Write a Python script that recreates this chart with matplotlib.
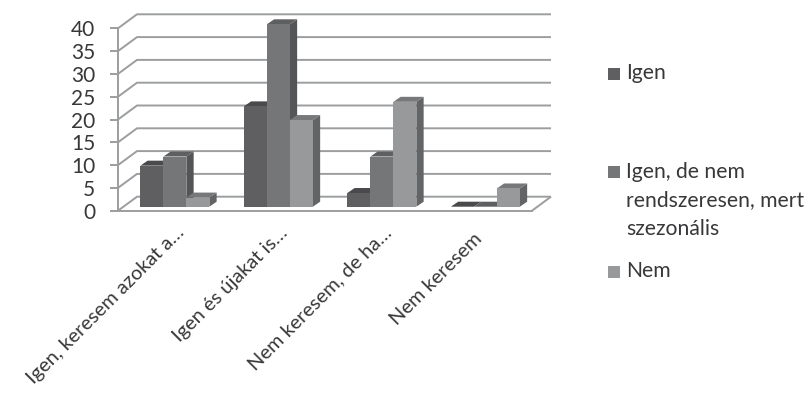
import matplotlib
matplotlib.use("Agg")
import matplotlib.pyplot as plt
from matplotlib.patches import Rectangle

categories = ["Igen, keresem azokat a…", "Igen és újakat is…", "Nem keresem, de ha…", "Nem keresem"]
igen = [9, 22, 3, 0]
igen_de_nem = [11, 40, 11, 0]
nem = [2, 19, 23, 4]
y_ticks = [0, 5, 10, 15, 20, 25, 30, 35, 40]
legend_labels = ["Igen", "Igen, de nem\nrendszeresen, mert\nszezonális", "Nem"]

W, H = 812, 394
plt.rcParams["font.family"] = ["Lato", "DejaVu Sans"]
TEXT = "#38383a"
GRID = "#9c9d9f"

fig = plt.figure(figsize=(W / 100, H / 100), dpi=100)
# The axes frame is the front edge of the 3-D floor and wall
ax = fig.add_axes([118 / W, 1 - 210.7 / H, 414 / W, 182.4 / H])
ax.set_xlim(-0.5, 3.5)
ax.set_ylim(0, 40)

px_x = 4 / 414
px_y = 40 / 182.4

# Wall and floor geometry
wall_dx, wall_dy = 19 * px_x, 14 * px_y
x0, x1 = -0.5, 3.5
line = dict(color=GRID, lw=1.4, clip_on=False, zorder=1, solid_capstyle="butt")
for t in y_ticks:
    ax.plot([x0, x0 + wall_dx, x1 + wall_dx], [t, t + wall_dy, t + wall_dy], **line)
ax.plot([x1, x1 + wall_dx], [0, wall_dy], **line)

# Bars standing between the front edge and the back wall
series = [igen, igen_de_nem, nem]
front = ["#5f5f61", "#757678", "#98999b"]
top = ["#4a4a4c", "#5e5f61", "#77787a"]
side = ["#47484a", "#545557", "#636466"]
bar_w = 23 * px_x
gap_x, gap_y = 5.1 * px_x, 4 * px_y
dep_x, dep_y = 7.3 * px_x, 5 * px_y

z = 2
for i in range(len(categories)):
    for k, values in enumerate(series):
        v = values[i]
        left = i + gap_x + (k - 1.5) * bar_w
        right = left + bar_w
        base = gap_y
        tip = base + v
        ax.fill([right, right + dep_x, right + dep_x, right],
                [base, base + dep_y, tip + dep_y, tip],
                color=side[k], lw=0, clip_on=False, zorder=z)
        ax.fill([left, left + dep_x, right + dep_x, right],
                [tip, tip + dep_y, tip + dep_y, tip],
                color=top[k], lw=0, clip_on=False, zorder=z)
        ax.bar(left, v, bar_w, bottom=base, align="edge", color=front[k],
               lw=0, clip_on=False, zorder=z)
        z += 1

# Axes frame and ticks
for name in ("top", "right"):
    ax.spines[name].set_visible(False)
for name in ("left", "bottom"):
    ax.spines[name].set_color(GRID)
    ax.spines[name].set_linewidth(1.4)
ax.set_yticks(y_ticks)
ax.tick_params(axis="y", length=5.8, width=1.4, color=GRID, pad=10.5,
               labelsize=15, labelcolor=TEXT)
ax.set_xticks([])

# Slanted category labels, each offset along the floor edge
label_offsets = [(12, -19), (12, -19), (12, -19), (-1, -25)]
for i, (cat, off) in enumerate(zip(categories, label_offsets)):
    ax.annotate(cat, xy=(i, 0), xycoords=("data", "axes fraction"), xytext=off,
                textcoords="offset pixels", rotation=45, rotation_mode="anchor",
                ha="right", va="center", fontsize=14.4, color=TEXT,
                annotation_clip=False)

# Legend, placed by hand because its rows are spaced unevenly
legend_y = [74, 172.5, 272]
for label, y, colour in zip(legend_labels, legend_y, front):
    fig.add_artist(Rectangle((608.5 / W, 1 - (y + 6) / H), 12 / W, 12 / H,
                             transform=fig.transFigure, color=colour, lw=0))
    fig.text(626 / W, 1 - (y - 11) / H, label, ha="left", va="top",
             fontsize=15.2, color=TEXT, linespacing=1.55)

fig.savefig("out.png", dpi=100)
